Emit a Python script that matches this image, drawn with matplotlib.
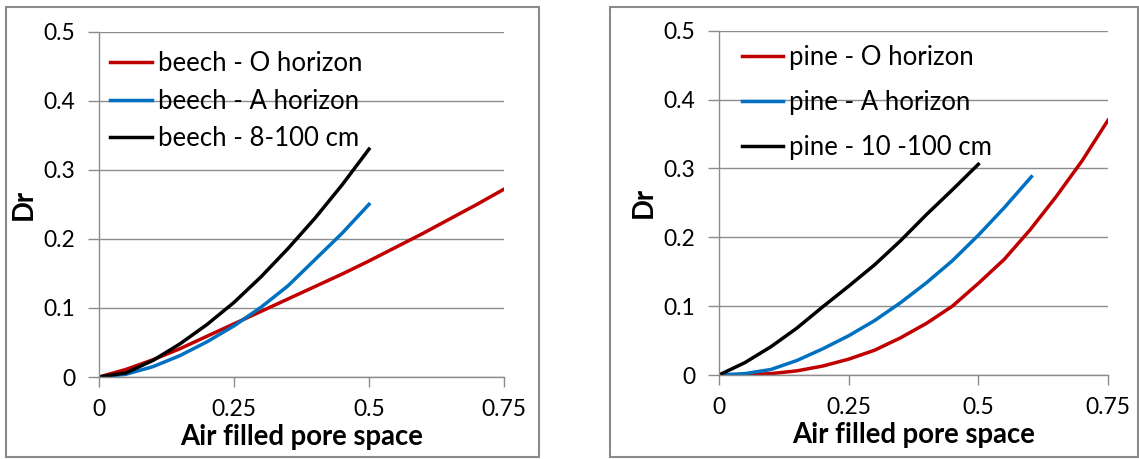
import matplotlib
matplotlib.use("Agg")
import matplotlib.pyplot as plt
from matplotlib.patches import Rectangle

plt.rcParams['font.family'] = ['Lato', 'DejaVu Sans']

# beech data
beech_x = [0, 0.05, 0.1, 0.15, 0.2, 0.25, 0.3, 0.35, 0.4, 0.45, 0.5,
           0.55, 0.6, 0.65, 0.7, 0.75]
beech_o = [0, 0.011, 0.025, 0.041, 0.059, 0.077, 0.095, 0.113, 0.131, 0.149,
           0.168, 0.188, 0.208, 0.229, 0.250, 0.272]
beech_a = [0, 0.004, 0.015, 0.031, 0.051, 0.074, 0.101, 0.132, 0.170, 0.208, 0.250]
beech_deep = [0, 0.006, 0.024, 0.048, 0.076, 0.108, 0.145, 0.186, 0.230, 0.278, 0.330]

# pine data
pine_x = [0, 0.05, 0.1, 0.15, 0.2, 0.25, 0.3, 0.35, 0.4, 0.45, 0.5,
          0.55, 0.6, 0.65, 0.7, 0.75]
pine_a_x = [0, 0.05, 0.1, 0.15, 0.2, 0.25, 0.3, 0.35, 0.4, 0.45, 0.5, 0.55, 0.6024]
pine_o = [0, 0.0005, 0.002, 0.006, 0.013, 0.023, 0.036, 0.054, 0.075, 0.100,
          0.133, 0.168, 0.211, 0.259, 0.311, 0.370]
pine_a = [0, 0.002, 0.008, 0.021, 0.038, 0.057, 0.079, 0.105, 0.134, 0.166,
          0.203, 0.243, 0.288]
pine_deep = [0, 0.018, 0.041, 0.068, 0.099, 0.129, 0.160, 0.195, 0.233, 0.269, 0.306]

beech_labels = ['beech - O horizon', 'beech - A horizon', 'beech - 8-100 cm']
pine_labels = ['pine - O horizon', 'pine - A horizon', 'pine - 10 -100 cm']

red = '#C00000'
blue = '#0070C0'
grid_c = '#8C8C8C'

W, H = 1139, 459
fig = plt.figure(figsize=(W / 100, H / 100), dpi=100)

# chart borders (Excel-style)
for x0, x1 in [(6, 539), (610, 1138)]:
    fig.patches.append(Rectangle((x0 / W, 1 - 457 / H), (x1 - x0) / W, (457 - 7) / H,
                                 transform=fig.transFigure, fill=False,
                                 edgecolor='#8A8A8A', linewidth=1.5))


def make_axes(px_left, px_right, px_top, px_bottom):
    return fig.add_axes([px_left / W, 1 - px_bottom / H,
                         (px_right - px_left) / W, (px_bottom - px_top) / H])


def style(ax):
    ax.set_xlim(0, 0.75)
    ax.set_ylim(0, 0.5)
    ax.set_xticks([0, 0.25, 0.5, 0.75])
    ax.set_xticklabels(['0', '0.25', '0.5', '0.75'])
    ax.set_yticks([0, 0.1, 0.2, 0.3, 0.4, 0.5])
    ax.set_yticklabels(['0', '0.1', '0.2', '0.3', '0.4', '0.5'])
    ax.yaxis.grid(True, color=grid_c, linewidth=1)
    ax.set_axisbelow(True)
    for s in ['top', 'right']:
        ax.spines[s].set_visible(False)
    for s in ['left', 'bottom']:
        ax.spines[s].set_color(grid_c)
        ax.spines[s].set_linewidth(1)
    ax.tick_params(axis='y', length=8, width=1, color=grid_c, pad=9, labelsize=16.5)
    ax.tick_params(axis='x', length=7, width=1, color=grid_c, pad=9, labelsize=16.5)
    ax.set_xlabel('Air filled pore space', fontsize=19.8, fontweight='bold', labelpad=3)
    ax.set_ylabel('Dr', fontsize=19.8, fontweight='bold', labelpad=5)


# left: beech
ax1 = make_axes(99, 504, 31.7, 377)
ax1.plot(beech_x, beech_o, color=red, lw=2.5, label=beech_labels[0])
ax1.plot(beech_x[:11], beech_a, color=blue, lw=2.5, label=beech_labels[1])
ax1.plot(beech_x[:11], beech_deep, color='black', lw=2.5, label=beech_labels[2])
style(ax1)
ax1.legend(loc='upper left', bbox_to_anchor=(0.003, 0.974), frameon=False,
           fontsize=18.5, handlelength=1.6, handletextpad=0.25, labelspacing=0.49,
           borderaxespad=0)

# right: pine
ax2 = make_axes(719, 1108, 30.7, 375)
ax2.plot(pine_x, pine_o, color=red, lw=2.5, label=pine_labels[0])
ax2.plot(pine_a_x, pine_a, color=blue, lw=2.5, label=pine_labels[1])
ax2.plot(pine_x[:11], pine_deep, color='black', lw=2.5, label=pine_labels[2])
style(ax2)
ax2.legend(loc='upper left', bbox_to_anchor=(0.032, 0.987), frameon=False,
           fontsize=18.5, handlelength=1.6, handletextpad=0.25, labelspacing=0.77,
           borderaxespad=0)

fig.savefig('out.png', dpi=100)
